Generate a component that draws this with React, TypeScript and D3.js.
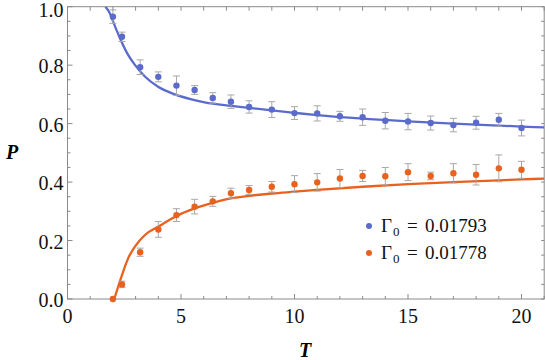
import * as d3 from "d3";

// measured temperatures
const tValues = [2, 2.4, 3.2, 4, 4.8, 5.6, 6.4, 7.2, 8, 9, 10, 11, 12, 13, 14, 15, 16, 17, 18, 19, 20];

// Γ0 = 0.01793
const blueP = [0.966, 0.897, 0.793, 0.76, 0.73, 0.715, 0.688, 0.675, 0.657, 0.648, 0.636, 0.635, 0.625, 0.622, 0.61, 0.607, 0.602, 0.595, 0.603, 0.613, 0.585];
const blueErr = [0.023, 0.016, 0.025, 0.017, 0.033, 0.015, 0.018, 0.023, 0.021, 0.027, 0.022, 0.026, 0.017, 0.028, 0.028, 0.028, 0.024, 0.023, 0.022, 0.022, 0.027];

// Γ0 = 0.01778
const orangeP = [0.0, 0.05, 0.16, 0.238, 0.287, 0.316, 0.334, 0.362, 0.373, 0.384, 0.393, 0.399, 0.412, 0.421, 0.42, 0.434, 0.421, 0.43, 0.425, 0.447, 0.442];
const orangeErr = [0, 0.011, 0.014, 0.027, 0.022, 0.025, 0.017, 0.017, 0.015, 0.018, 0.029, 0.03, 0.031, 0.019, 0.03, 0.029, 0.013, 0.033, 0.035, 0.046, 0.029];

// fitted curves
const blueFitT = [1.67, 1.87, 2.01, 2.16, 2.38, 2.67, 2.97, 3.41, 3.99, 4.73, 5.46, 6.04, 7.2, 8, 10, 11, 13, 15, 17, 20, 21];
const blueFitP = [1.0, 0.977, 0.949, 0.92, 0.88, 0.835, 0.801, 0.761, 0.726, 0.7, 0.683, 0.673, 0.661, 0.654, 0.637, 0.629, 0.617, 0.608, 0.6, 0.59, 0.587];
const orangeFitT = [2.06, 2.23, 2.45, 2.67, 2.97, 3.41, 3.99, 4.8, 5.6, 6.4, 7.2, 8, 9, 10, 11, 13, 15, 17, 20, 21];
const orangeFitP = [0, 0.042, 0.093, 0.139, 0.179, 0.219, 0.247, 0.284, 0.31, 0.329, 0.344, 0.353, 0.361, 0.367, 0.373, 0.384, 0.393, 0.4, 0.409, 0.412];

const legendLabels = ["0.01793", "0.01778"];

const xTicks = [0, 5, 10, 15, 20];
const yTicks = [0, 0.2, 0.4, 0.6, 0.8, 1.0];

const BLUE = "#5a6bcb";
const ORANGE = "#e8611d";
const FRAME = "#8a8a8a";
const ERR = "#a8a8a8";
const SERIF = "Liberation Serif";

type Series = { p: number[]; err: number[]; fitT: number[]; fitP: number[]; color: string };

export default function App() {
  const width = 545;
  const height = 360;
  const x = d3.scaleLinear().domain([0, 21]).range([67.5, 544.2]);
  const y = d3.scaleLinear().domain([0, 1]).range([299, 6.7]);

  const series: Series[] = [
    { p: blueP, err: blueErr, fitT: blueFitT, fitP: blueFitP, color: BLUE },
    { p: orangeP, err: orangeErr, fitT: orangeFitT, fitP: orangeFitP, color: ORANGE },
  ];

  const line = d3
    .line<[number, number]>()
    .x((d) => x(d[0]))
    .y((d) => y(d[1]))
    .curve(d3.curveMonotoneX);

  const minorX = d3.range(0, 22, 1);
  const minorY = d3.range(0, 1.0001, 0.05);
  const [x0, x1] = x.range();
  const [yb, yt] = y.range();

  return (
    <svg width={width} height={height} style={{ position: "absolute", left: 0, top: 0 }}>
      <defs>
        <clipPath id="plot">
          <rect x={x0} y={yt} width={x1 - x0} height={yb - yt} />
        </clipPath>
      </defs>

      {/* frame */}
      <rect x={x0} y={yt} width={x1 - x0} height={yb - yt} fill="none" stroke={FRAME} strokeWidth={1} />
      <g stroke={FRAME} strokeWidth={1}>
        {minorX.map((t) => {
          const major = t % 5 === 0;
          return (
            <g key={"xt" + t}>
              <line x1={x(t)} x2={x(t)} y1={yb} y2={yb - (major ? 5 : 3)} />
              <line x1={x(t)} x2={x(t)} y1={yt} y2={yt + 4} />
            </g>
          );
        })}
        {minorY.map((v, i) => {
          const major = i % 4 === 0;
          return (
            <g key={"yt" + i}>
              <line x1={x0} x2={x0 + (major ? 5 : 3)} y1={y(v)} y2={y(v)} />
              <line x1={x1} x2={x1 - 3} y1={y(v)} y2={y(v)} />
            </g>
          );
        })}
      </g>

      {/* tick labels */}
      {xTicks.map((t) => (
        <text key={"xl" + t} x={x(t)} y={323} textAnchor="middle" fontSize={20} fill="#111" fontFamily={SERIF}>
          {t}
        </text>
      ))}
      {yTicks.map((v) => (
        <text key={"yl" + v} x={63.5} y={Math.max(y(v) + 8, 17)} textAnchor="end" fontSize={20} fill="#111" fontFamily={SERIF}>
          {v.toFixed(1)}
        </text>
      ))}

      {/* axis labels */}
      <text x={12} y={159} fontSize={20} fontWeight="bold" fontStyle="italic" textAnchor="middle" fontFamily={SERIF}>
        P
      </text>
      <text x={305} y={357} fontSize={20} fontWeight="bold" fontStyle="italic" textAnchor="middle" fontFamily={SERIF}>
        T
      </text>

      {/* fits */}
      <g clipPath="url(#plot)">
        {series.map((s, i) => (
          <path
            key={"fit" + i}
            d={line(s.fitT.map((t, j) => [t, s.fitP[j]] as [number, number])) ?? ""}
            fill="none"
            stroke={s.color}
            strokeWidth={2.3}
          />
        ))}
      </g>

      {/* error bars */}
      <g stroke={ERR} strokeWidth={1}>
        {series.map((s, i) =>
          tValues.map((t, j) =>
            s.err[j] > 0 ? (
              <g key={`e${i}-${j}`}>
                <line x1={x(t)} x2={x(t)} y1={y(s.p[j] - s.err[j])} y2={y(s.p[j] + s.err[j])} />
                <line x1={x(t) - 3.5} x2={x(t) + 3.5} y1={y(s.p[j] - s.err[j])} y2={y(s.p[j] - s.err[j])} />
                <line x1={x(t) - 3.5} x2={x(t) + 3.5} y1={y(s.p[j] + s.err[j])} y2={y(s.p[j] + s.err[j])} />
              </g>
            ) : null
          )
        )}
      </g>

      {/* points */}
      {series.map((s, i) =>
        tValues.map((t, j) => <circle key={`p${i}-${j}`} cx={x(t)} cy={y(s.p[j])} r={3.2} fill={s.color} />)
      )}

      {/* legend */}
      {series.map((s, i) => {
        const ly = 226 + i * 27;
        const lx = 381;
        return (
          <g key={"lg" + i} fill="#111">
            <circle cx={369} cy={ly} r={3} fill={s.color} />
            <text x={lx} y={ly + 6} fontSize={19} fontFamily={SERIF}>Γ</text>
            <text x={lx + 12} y={ly + 10} fontSize={13} fontFamily={SERIF}>0</text>
            <text x={lx + 26} y={ly + 6} fontSize={19} fontFamily={SERIF}>=</text>
            <text x={lx + 44} y={ly + 6} fontSize={19} fontFamily={SERIF}>{legendLabels[i]}</text>
          </g>
        );
      })}
    </svg>
  );
}
